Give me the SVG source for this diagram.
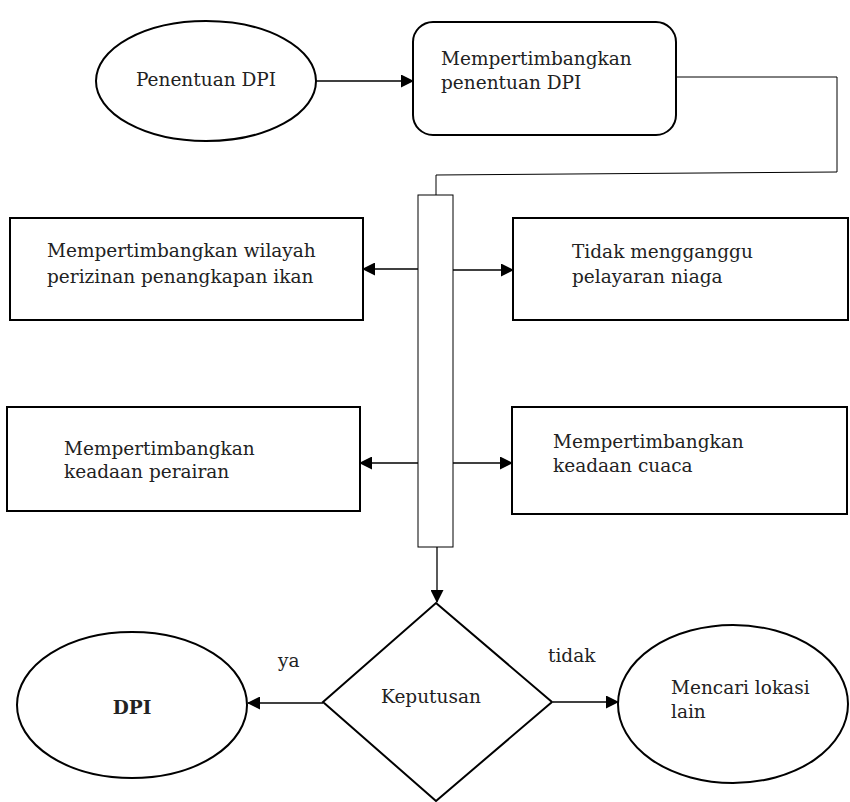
<svg xmlns="http://www.w3.org/2000/svg" width="850" height="802" viewBox="0 0 850 802">
<style>
.n{fill:#fff;stroke:#000;stroke-width:2}
.t{font-family:"DejaVu Serif","Liberation Serif",serif;font-size:18.5px;fill:#222}
.c{fill:none;stroke:#000;stroke-width:1.3}
.thin{fill:none;stroke:#000;stroke-width:1}
</style>
<defs>
<marker id="ah" markerWidth="13" markerHeight="13" refX="12" refY="6.5" orient="auto" markerUnits="userSpaceOnUse"><path d="M0,0 L13,6.5 L0,13 Z" fill="#000"/></marker>
</defs>
<rect width="850" height="802" fill="#fff"/>
<g id="n-penentuan">
<ellipse class="n" cx="206" cy="81" rx="110" ry="60"/>
<text class="t" x="206" y="86" text-anchor="middle">Penentuan DPI</text>
</g>
<g id="n-mempertimbangkan">
<rect class="n" x="413" y="22" width="263" height="113" rx="20"/>
<text class="t" x="441" y="65">Mempertimbangkan</text>
<text class="t" x="441" y="89">penentuan DPI</text>
</g>
<g id="n-bar">
<rect class="thin" x="418" y="195" width="35" height="352"/>
</g>
<g id="n-wilayah">
<rect class="n" x="10" y="218" width="353" height="102"/>
<text class="t" x="47" y="257">Mempertimbangkan wilayah</text>
<text class="t" x="47" y="283">perizinan penangkapan ikan</text>
</g>
<g id="n-pelayaran">
<rect class="n" x="513" y="218" width="335" height="102"/>
<text class="t" x="572" y="258">Tidak mengganggu</text>
<text class="t" x="572" y="283">pelayaran niaga</text>
</g>
<g id="n-perairan">
<rect class="n" x="7" y="407" width="353" height="104"/>
<text class="t" x="64" y="455">Mempertimbangkan</text>
<text class="t" x="64" y="478">keadaan perairan</text>
</g>
<g id="n-cuaca">
<rect class="n" x="512" y="407" width="335" height="107"/>
<text class="t" x="553" y="448">Mempertimbangkan</text>
<text class="t" x="553" y="472">keadaan cuaca</text>
</g>
<g id="n-keputusan">
<polygon class="n" points="436,603 552,702 436,801 323,702"/>
<text class="t" x="431" y="703" text-anchor="middle">Keputusan</text>
</g>
<g id="n-dpi">
<ellipse class="n" cx="132" cy="705" rx="115" ry="73"/>
<text class="t" x="132" y="714" text-anchor="middle" font-weight="bold" font-size="25">DPI</text>
</g>
<g id="n-mencari">
<ellipse class="n" cx="733" cy="704" rx="115" ry="79"/>
<text class="t" x="671" y="694">Mencari lokasi</text>
<text class="t" x="671" y="718">lain</text>
</g>
<g id="connectors">
<line class="c" x1="316" y1="81" x2="413" y2="81" marker-end="url(#ah)"/>
<polyline class="thin" points="676,77 837,77 837,172 436,175 436,195"/>
<line class="c" x1="418" y1="269" x2="363" y2="269" marker-end="url(#ah)"/>
<line class="c" x1="453" y1="270" x2="513" y2="270" marker-end="url(#ah)"/>
<line class="c" x1="418" y1="463" x2="360" y2="463" marker-end="url(#ah)"/>
<line class="c" x1="453" y1="463" x2="512" y2="463" marker-end="url(#ah)"/>
<line class="c" x1="437" y1="547" x2="437" y2="602" marker-end="url(#ah)"/>
<line class="c" x1="323" y1="703" x2="248" y2="703" marker-end="url(#ah)"/>
<line class="c" x1="553" y1="702" x2="618" y2="702" marker-end="url(#ah)"/>
<text class="t" x="278" y="667">ya</text>
<text class="t" x="548" y="662">tidak</text>
</g>
</svg>
